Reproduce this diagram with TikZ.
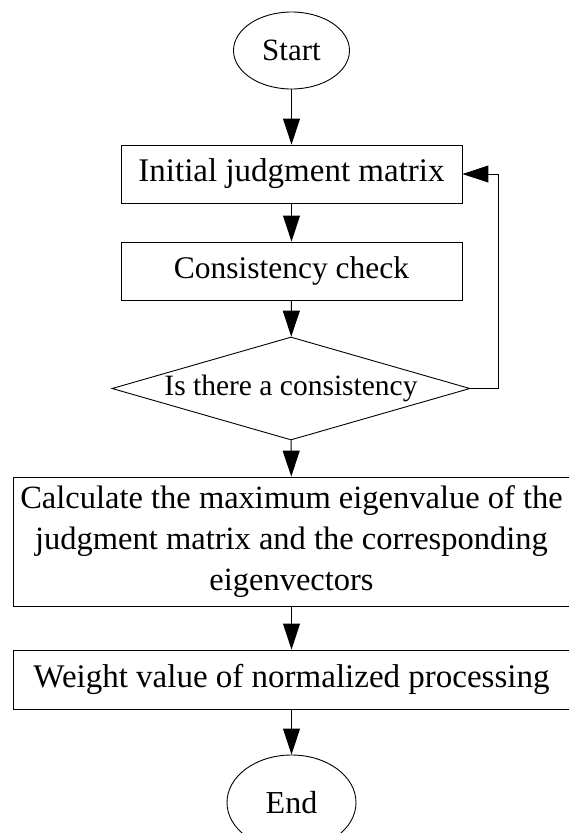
\documentclass[tikz,border=0pt]{standalone}
\usepackage{fontspec}
\setmainfont{Liberation Serif}
\usepackage{tikz}
\usetikzlibrary{shapes,arrows.meta}
\usetikzlibrary{positioning}

\begin{document}
\begin{tikzpicture}[x=1pt,y=-1pt,
	font=\fontsize{32}{41}\selectfont,
	box/.style={draw,line width=0.9pt,inner sep=0pt,align=center},
	term/.style={draw,ellipse,line width=0.9pt,inner sep=0pt},
	flow/.style={line width=1pt,-{Triangle[length=26pt,width=17pt]}}]
	\useasboundingbox (0,0) rectangle (568,833);
	\node[term,minimum width=116,minimum height=77,font=\fontsize{31}{41}\selectfont] (start) at (291.5,50.5) {Start};
	\node[box,minimum width=341,minimum height=58,font=\fontsize{33}{41}\selectfont] (init) at (291.5,174) {Initial judgment matrix};
	\node[box,minimum width=341,minimum height=58,font=\fontsize{31.5}{41}\selectfont] (check) at (291.5,271) {Consistency check};
	\node[box,diamond,aspect=3.48,minimum width=358,minimum height=103,font=\fontsize{29.5}{41}\selectfont] (cons) at (291,388.5) {Is there a consistency};
	\node[box,minimum width=557,minimum height=129,font=\fontsize{32.5}{41}\selectfont] (calc) at (291.5,541.5)
		{Calculate the maximum eigenvalue of the\\judgment matrix and the corresponding\\eigenvectors};
	\node[box,minimum width=557,minimum height=59,font=\fontsize{33}{41}\selectfont] (norm) at (291.5,679.5) {Weight value of normalized processing};
	\node[term,minimum width=129,minimum height=95] (end) at (291.5,802.5) {End};
	% main flow
	\draw[flow] (start) -- (init);
	\draw[flow] (init) -- (check);
	\draw[flow] (check) -- (cons);
	\draw[flow] (cons) -- (calc);
	\draw[flow] (calc) -- (norm);
	\draw[flow] (norm) -- (end);
	% back to the matrix
	\draw[flow] (cons.east) -- ++(28,0) |- (init.east);
\end{tikzpicture}
\end{document}
